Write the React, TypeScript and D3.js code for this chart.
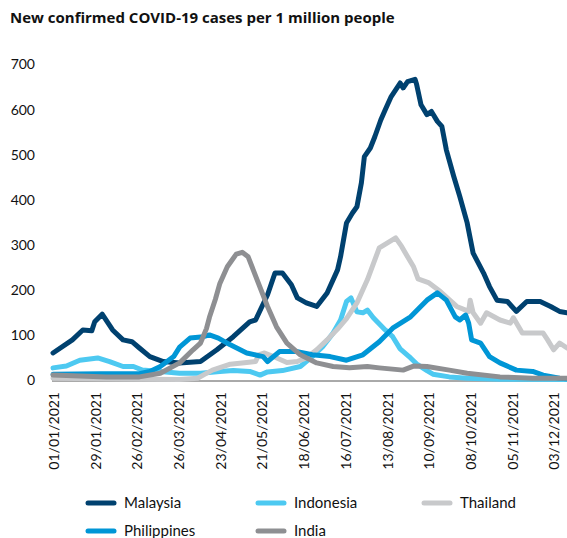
import React from "react";
import * as d3 from "d3";

// Data: [day offset from 01/01/2021, new cases per 1 million people]
const malaysia: [number, number][] = [
  [0, 61], [13, 90], [20, 112], [26, 110], [28, 130], [33, 147], [40, 112], [47, 90], [53, 86], [58, 72],
  [65, 53], [74, 42], [85, 39], [99, 42], [110, 68], [121, 97], [132, 130], [136, 134], [144, 190], [149, 238],
  [154, 238], [160, 212], [164, 183], [170, 172], [177, 164], [184, 194], [191, 245], [193, 274], [197, 349],
  [201, 371], [204, 385], [207, 438], [209, 496], [213, 515], [216, 540], [220, 577], [223, 600], [227, 629],
  [233, 659], [235, 648], [238, 662], [243, 667], [244, 657], [247, 611], [251, 589], [254, 596], [258, 574],
  [261, 563], [264, 511], [269, 452], [273, 408], [278, 349], [282, 282], [289, 238], [293, 208], [298, 178],
  [305, 175], [311, 153], [318, 175], [327, 175], [334, 164], [340, 153], [345, 150],
];
const indonesia: [number, number][] = [
  [0, 28], [9, 32], [18, 45], [30, 50], [38, 42], [47, 31], [54, 31], [60, 23], [72, 20], [85, 16], [99, 16],
  [112, 20], [121, 22], [132, 20], [139, 12], [144, 19], [154, 22], [166, 31], [174, 53], [181, 75], [188, 105],
  [193, 134], [197, 175], [200, 183], [204, 152], [208, 150], [211, 156], [215, 139], [223, 112], [228, 97],
  [233, 70], [240, 50], [244, 37], [251, 22], [255, 14], [266, 8], [278, 5], [300, 3], [345, 2],
];
const thailand: [number, number][] = [
  [0, 5], [32, 4], [65, 3], [85, 2], [97, 5], [102, 14], [107, 23], [119, 36], [130, 40], [136, 42], [138, 57],
  [142, 61], [148, 53], [157, 40], [164, 42], [170, 50], [177, 68], [184, 90], [191, 114], [197, 137], [204, 172],
  [211, 223], [216, 267], [219, 294], [230, 316], [234, 297], [238, 274], [242, 252], [245, 225], [252, 217],
  [260, 197], [271, 164], [279, 153], [280, 178], [282, 150], [287, 127], [291, 150], [300, 134], [307, 127],
  [309, 139], [315, 105], [329, 105], [332, 90], [336, 68], [340, 83], [345, 72],
];
const philippines: [number, number][] = [
  [0, 14], [32, 15], [58, 15], [65, 20], [72, 31], [81, 53], [85, 74], [92, 94], [101, 97], [105, 101],
  [111, 94], [119, 79], [130, 61], [141, 53], [144, 42], [152, 64], [164, 64], [174, 57], [186, 53], [197, 45],
  [208, 57], [219, 86], [228, 116], [240, 141], [251, 178], [258, 194], [264, 178], [270, 141], [273, 134],
  [277, 145], [279, 127], [281, 90], [287, 83], [293, 53], [300, 39], [311, 23], [322, 20], [329, 12],
  [340, 5], [345, 4],
];
const india: [number, number][] = [
  [0, 12], [18, 10], [36, 8], [58, 8], [72, 16], [85, 39], [94, 68], [99, 83], [103, 115], [105, 140],
  [109, 180], [112, 215], [117, 252], [123, 280], [127, 284], [131, 274], [137, 223], [144, 164], [150, 119],
  [157, 83], [166, 57], [177, 39], [188, 31], [199, 28], [211, 31], [219, 28], [235, 23], [242, 32], [251, 31],
  [266, 23], [278, 16], [300, 8], [322, 5], [345, 5],
];

const seriesNames = ["Malaysia", "Indonesia", "Thailand", "Philippines", "India"];
const seriesData = [malaysia, indonesia, thailand, philippines, india];
const seriesColors = ["#00416f", "#4dc9f1", "#c8c9cb", "#0096d6", "#8e8f92"];

const yTicks = [0, 100, 200, 300, 400, 500, 600, 700];
const xTickLabels = [
  "01/01/2021", "29/01/2021", "26/02/2021", "26/03/2021", "23/04/2021", "21/05/2021", "18/06/2021",
  "16/07/2021", "13/08/2021", "10/09/2021", "08/10/2021", "05/11/2021", "03/12/2021",
];

const title = "New confirmed COVID-19 cases per 1 million people";

export default function App() {
  const width = 567;
  const height = 538;
  const parse = d3.timeParse("%d/%m/%Y");
  const start = parse("01/01/2021") as Date;
  const end = d3.timeDay.offset(start, 345);

  const x = d3.scaleTime().domain([start, end]).range([53, 567]);
  const y = d3.scaleLinear().domain([0, 700]).range([380.5, 64.5]);

  const line = d3
    .line<[number, number]>()
    .x((d) => x(d3.timeDay.offset(start, d[0])))
    .y((d) => y(d[1]))
    .curve(d3.curveLinear);

  const font = "Lato, 'Open Sans', sans-serif";

  const legendItems = [
    { i: 0, x: 88, y: 503 },
    { i: 1, x: 258, y: 503 },
    { i: 2, x: 424, y: 503 },
    { i: 3, x: 88, y: 531 },
    { i: 4, x: 258, y: 531 },
  ];

  return (
    <svg
      width={width}
      height={height}
      style={{ position: "absolute", left: 0, top: 0, background: "#fff" }}
      fontFamily={font}
    >
      <text x={10} y={23} fontSize={15} fontWeight="bold" fill="#111" fontFamily="'Open Sans', sans-serif">
        {title}
      </text>

      {yTicks.map((t) => (
        <text key={t} x={35} y={y(t)} dy="0.35em" textAnchor="end" fontSize={14} fill="#111">
          {t}
        </text>
      ))}

      <line x1={52} x2={567} y1={y(0) + 0.5} y2={y(0) + 0.5} stroke="#555" strokeWidth={1} />

      {xTickLabels.map((lbl) => {
        const px = x(parse(lbl) as Date);
        return (
          <text
            key={lbl}
            transform={`translate(${px + 1},392) rotate(-90)`}
            dy="0.35em"
            textAnchor="end"
            fontSize={14}
            fill="#111"
          >
            {lbl}
          </text>
        );
      })}

      <g fill="none" strokeLinejoin="round" strokeLinecap="round">
        {seriesData.map((s, i) => (
          <path key={seriesNames[i]} d={line(s) || ""} stroke={seriesColors[i]} strokeWidth={5} />
        ))}
      </g>

      {legendItems.map((it) => (
        <g key={seriesNames[it.i]}>
          <line
            x1={it.x}
            x2={it.x + 26}
            y1={it.y}
            y2={it.y}
            stroke={seriesColors[it.i]}
            strokeWidth={5}
            strokeLinecap="round"
          />
          <text x={it.x + 36} y={it.y} dy="0.35em" fontSize={15} fill="#111">
            {seriesNames[it.i]}
          </text>
        </g>
      ))}
    </svg>
  );
}
